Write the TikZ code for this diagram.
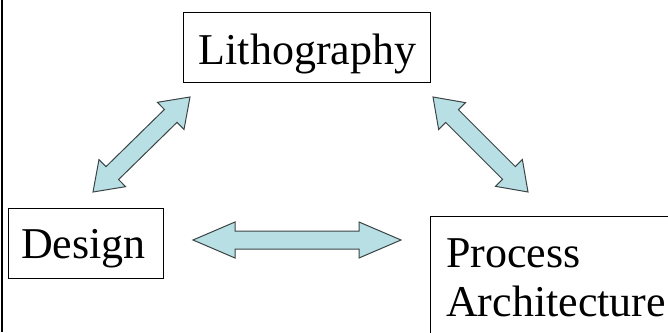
\documentclass[tikz,border=0pt]{standalone}
\usepackage{fontspec}
\setmainfont{Liberation Serif}
\newfontfamily\tnrfont{Liberation Serif}
\usetikzlibrary{calc}
\definecolor{arrowfill}{RGB}{184,224,228}
\definecolor{arrowline}{RGB}{60,68,70}
\newcommand\blkarrow[5]{% tipA, tipB, head length, head half width, shaft half width
  \coordinate (ba1) at ($(#1)!#3!(#2)$);
  \coordinate (ba2) at ($(#2)!#3!(#1)$);
  \draw[blockarrow] (#1)
    -- ($(ba1)!#4!90:(#2)$) -- ($(ba1)!#5!90:(#2)$)
    -- ($(ba2)!#5!-90:(#1)$) -- ($(ba2)!#4!-90:(#1)$)
    -- (#2)
    -- ($(ba2)!#4!90:(#1)$) -- ($(ba2)!#5!90:(#1)$)
    -- ($(ba1)!#5!-90:(#2)$) -- ($(ba1)!#4!-90:(#2)$)
    -- cycle;}
\begin{document}
\begin{tikzpicture}[x=1pt,y=-1pt,
  box/.style={draw=black, line width=1pt, inner sep=0pt, anchor=north west},
  boxtext/.style={font=\tnrfont\fontsize{44}{49}\selectfont, inner sep=0pt},
  blockarrow/.style={fill=arrowfill, draw=arrowline, line width=1pt, line join=miter}]
\useasboundingbox (0,0) rectangle (668,332);
\clip (0,0) rectangle (668,332);
\fill[white] (0,0) rectangle (668,332);
\draw[line width=2.2pt] (2,0) -- (2,332);
% boxes
\node[box, minimum width=247pt, minimum height=70pt] (litho) at (183,12) {};
\node[box, minimum width=155pt, minimum height=70pt] (design) at (8,208) {};
\node[box, minimum width=300pt, minimum height=160pt] (process) at (430,216) {};
% texts
\node[boxtext, anchor=base] (lithoText) at (307.5,64) {Lithography};
\node[boxtext, anchor=base] (designText) at (83.5,258) {Design};
\node[boxtext, anchor=base west] (procText) at (446,267) {Process};
\node[boxtext, anchor=base west] (archText) at (446,316) {Architecture};
% arrow tips
\coordinate (dl1) at (93,192);
\coordinate (dl2) at (190,97);
\coordinate (lp1) at (433,97);
\coordinate (lp2) at (528,192);
\coordinate (dp1) at (193,240);
\coordinate (dp2) at (401,240);
\blkarrow{dl1}{dl2}{27pt}{19pt}{9pt}
\blkarrow{lp1}{lp2}{27pt}{19pt}{9pt}
\blkarrow{dp1}{dp2}{42pt}{18pt}{9pt}
\end{tikzpicture}
\end{document}
